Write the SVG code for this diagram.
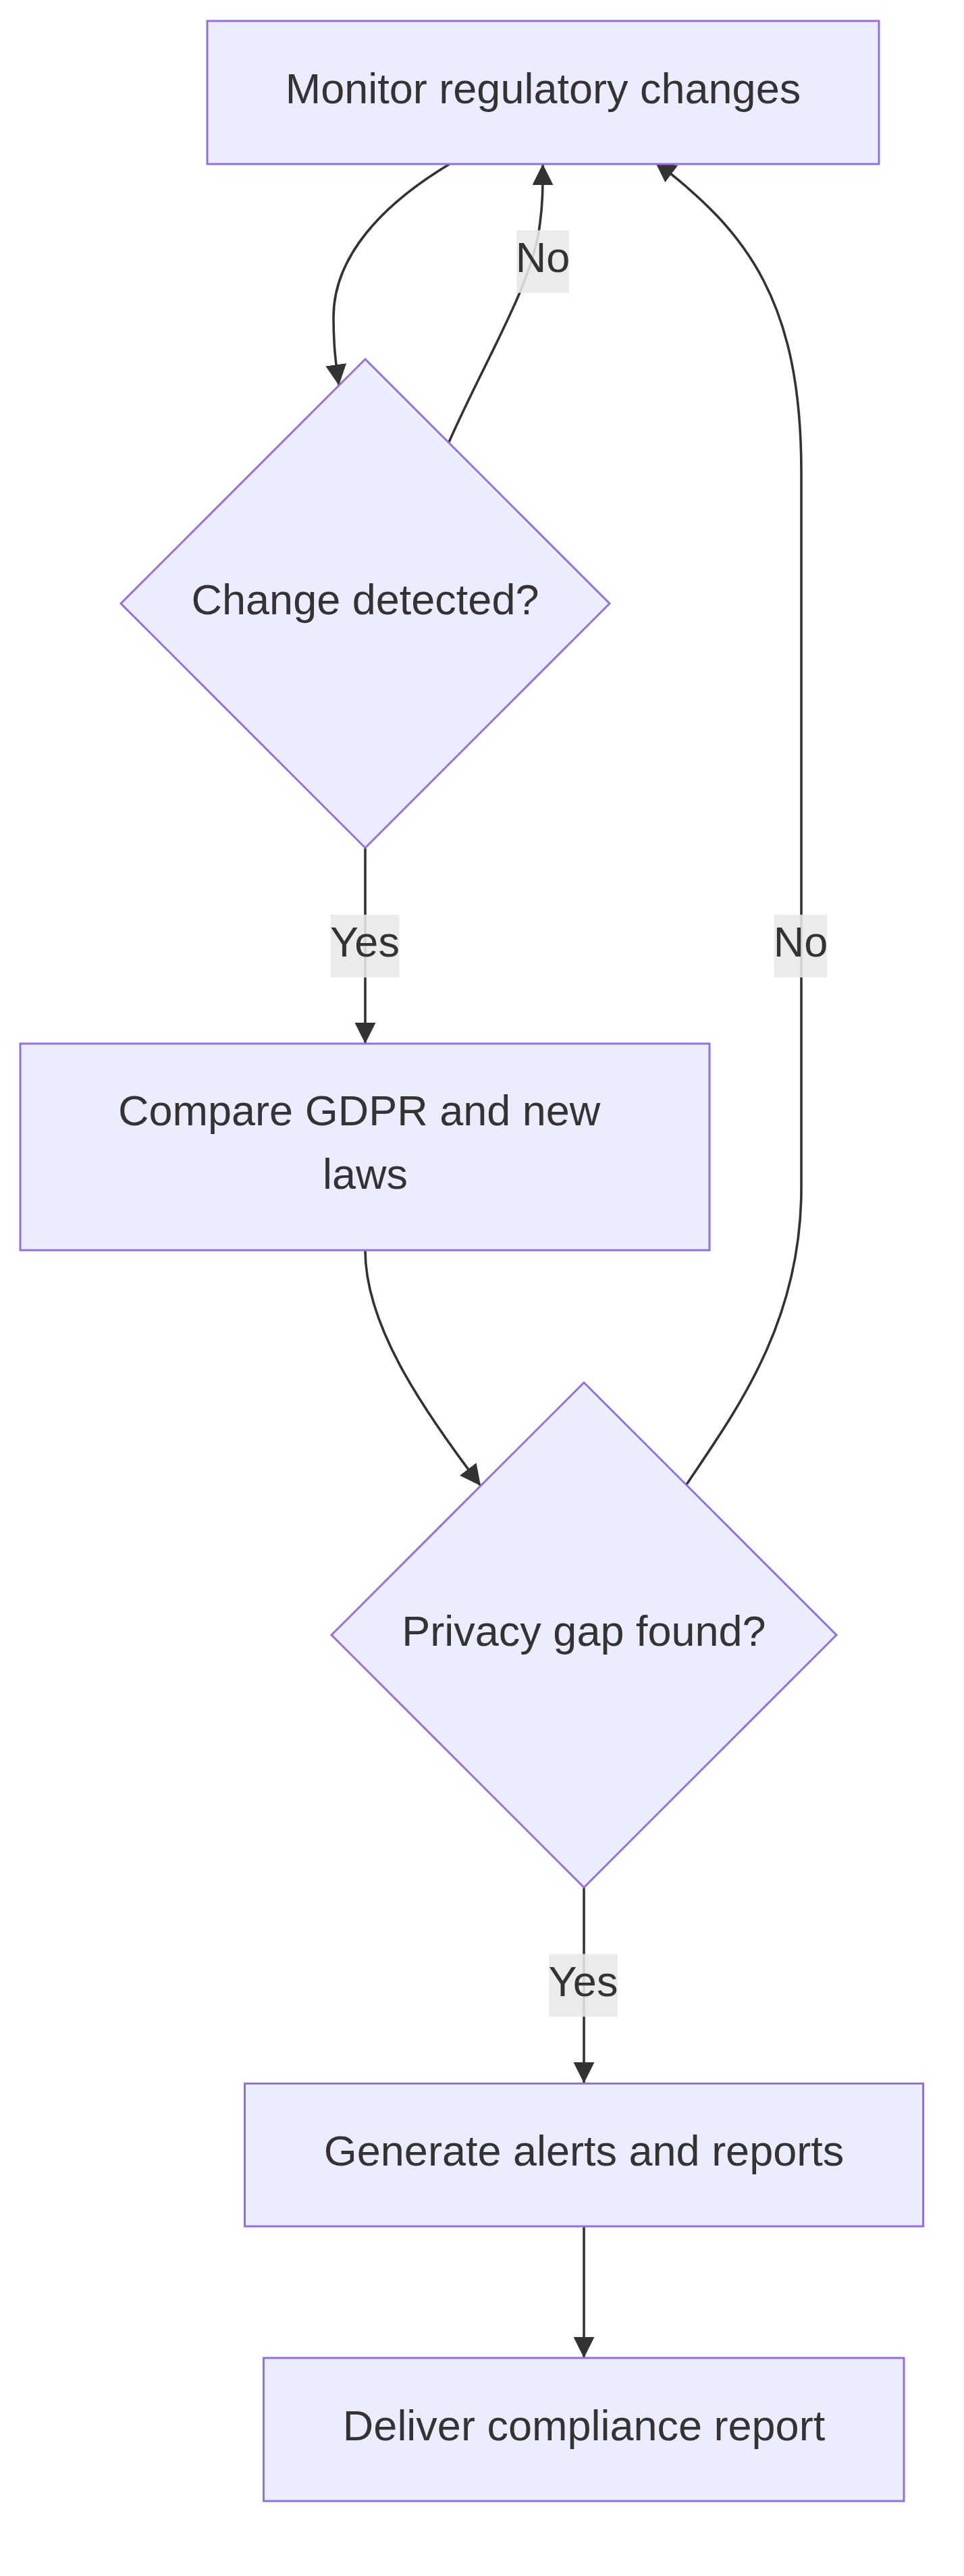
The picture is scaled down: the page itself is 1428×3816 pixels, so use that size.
<svg xmlns="http://www.w3.org/2000/svg" width="1428" height="3816" viewBox="0 0 1428 3816">
  <style>
    .node { fill: #ECECFF; stroke: #9370DB; stroke-width: 3; }
    .edge { fill: none; stroke: #333333; stroke-width: 3.6; }
    .lbl { font-family: "Liberation Sans", Arial, sans-serif; font-size: 63px; fill: #333333; text-anchor: middle; }
    .elbg { fill: #e8e8e8; fill-opacity: 0.88; }
  </style>
  <defs>
    <marker id="arrow" markerUnits="userSpaceOnUse" viewBox="0 0 10 10" refX="10" refY="5" markerWidth="31" markerHeight="31" orient="auto">
      <path d="M0,0 L10,5 L0,10 z" fill="#333333"/>
    </marker>
  </defs>
  <rect x="0" y="0" width="1428" height="3816" fill="#ffffff"/>

  <g id="connectors">
    <path id="e-A-D1" class="edge" d="M 666 243 C 566 303, 494 380, 494 470 C 494 510, 497 535, 502 571" marker-end="url(#arrow)"/>
    <path id="e-D1-A" class="edge" d="M 665 655 C 720 530, 790 420, 800 330 C 804 300, 804 280, 804 243" marker-end="url(#arrow)"/>
    <path id="e-D2-A" class="edge" d="M 1017 2199 C 1090 2090, 1187 1960, 1187 1760 L 1187 700 C 1187 450, 1110 345, 970 239" marker-end="url(#arrow)"/>
    <path id="e-D1-B" class="edge" d="M 541 1256 L 541 1546" marker-end="url(#arrow)"/>
    <path id="e-B-D2" class="edge" d="M 541 1852 C 541 1960, 620 2080, 712 2201" marker-end="url(#arrow)"/>
    <path id="e-D2-C" class="edge" d="M 865 2796 L 865 3086" marker-end="url(#arrow)"/>
    <path id="e-C-D" class="edge" d="M 865 3298 L 865 3493" marker-end="url(#arrow)"/>
  </g>

  <g id="node-A">
    <rect class="node" x="307" y="31" width="995" height="212"/>
    <text class="lbl" x="804.5" y="153">Monitor regulatory changes</text>
  </g>
  <g id="node-D1">
    <polygon class="node" points="541,532 903,894 541,1256 179,894"/>
    <text class="lbl" x="541" y="910">Change detected?</text>
  </g>
  <g id="node-B">
    <rect class="node" x="30" y="1546" width="1021" height="306"/>
    <text class="lbl" x="532.2" y="1667">Compare GDPR and new</text>
    <text class="lbl" x="541" y="1761">laws</text>
  </g>
  <g id="node-D2">
    <polygon class="node" points="865,2048 1239,2422 865,2796 491,2422"/>
    <text class="lbl" x="865" y="2438">Privacy gap found?</text>
  </g>
  <g id="node-C">
    <rect class="node" x="362.5" y="3086.5" width="1005" height="211.5"/>
    <text class="lbl" x="865" y="3208">Generate alerts and reports</text>
  </g>
  <g id="node-D">
    <rect class="node" x="390.5" y="3493" width="948.5" height="212"/>
    <text class="lbl" x="865" y="3615">Deliver compliance report</text>
  </g>

  <g id="edge-labels">
    <g id="lbl-D1-A">
      <rect class="elbg" x="765" y="341" width="78" height="93"/>
      <text class="lbl" x="804" y="403">No</text>
    </g>
    <g id="lbl-D1-B">
      <rect class="elbg" x="489.5" y="1355" width="102" height="93"/>
      <text class="lbl" x="540.5" y="1417">Yes</text>
    </g>
    <g id="lbl-D2-A">
      <rect class="elbg" x="1147" y="1355" width="78" height="93"/>
      <text class="lbl" x="1186" y="1417">No</text>
    </g>
    <g id="lbl-D2-C">
      <rect class="elbg" x="813" y="2894.5" width="102" height="93"/>
      <text class="lbl" x="864" y="2957">Yes</text>
    </g>
  </g>
</svg>
